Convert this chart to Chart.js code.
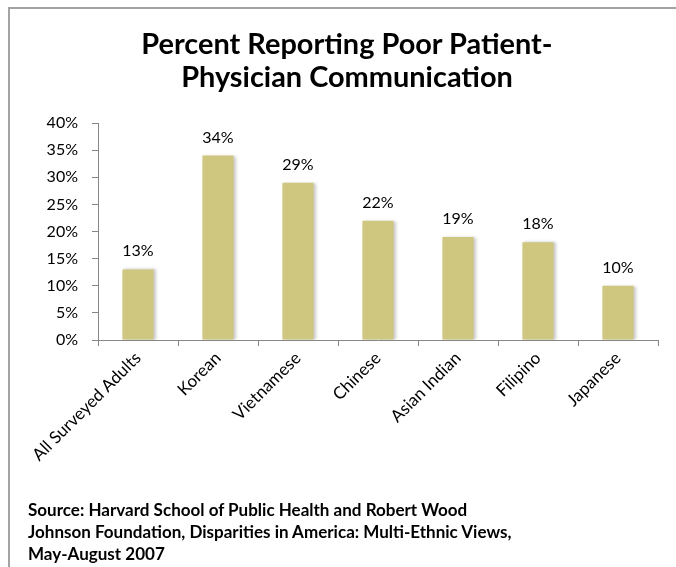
<!DOCTYPE html>
<html>
<head>
<meta charset="utf-8">
<script src="https://cdn.jsdelivr.net/npm/chart.js@4.4.1/dist/chart.umd.min.js"></script>
<style>
  html, body { margin: 0; padding: 0; background: #fff; }
  body { width: 676px; height: 567px; position: relative; overflow: hidden; }
  #frame { position: absolute; left: 8px; top: 7px; width: 700px; height: 600px;
           border-left: 2px solid #a3a3a3; border-top: 2px solid #a3a3a3; }
  #chartWrap { position: absolute; left: 0; top: 0; width: 676px; height: 567px; }
  .title { position: absolute; left: 0; width: 694px; text-align: center;
           font-family: Lato, "Open Sans", sans-serif; font-weight: bold; color: #000;
           white-space: nowrap; }
  .src { position: absolute; left: 28px; font-family: Lato, "Open Sans", sans-serif;
         font-weight: bold; color: #000; white-space: nowrap; }
</style>
</head>
<body>
<div id="frame"></div>
<div id="chartWrap"><canvas id="c" width="676" height="567"></canvas></div>
<div id="t1" class="title">Percent Reporting Poor Patient-</div>
<div id="t2" class="title">Physician Communication</div>
<div id="s1" class="src">Source: Harvard School of Public Health and Robert Wood</div>
<div id="s2" class="src">Johnson Foundation, Disparities in America: Multi-Ethnic Views,</div>
<div id="s3" class="src">May-August 2007</div>
<script>
const categories = ['All Surveyed Adults', 'Korean', 'Vietnamese', 'Chinese', 'Asian Indian', 'Filipino', 'Japanese'];
const values = [13, 34, 29, 22, 19, 18, 10];
const yMin = 0;
const yMax = 40;
const yStep = 5;

function placeLines(ids, fontSize, baselines) {
  ids.forEach((id, i) => {
    const el = document.getElementById(id);
    el.style.fontSize = fontSize + 'px';
    el.style.lineHeight = fontSize + 'px';
    const baselineOffset = (fontSize - 1.2 * fontSize) / 2 + 0.987 * fontSize;
    el.style.top = (baselines[i] - baselineOffset) + 'px';
  });
}
function fitSize(text, weight, family, targetWidth) {
  const ctx = document.createElement('canvas').getContext('2d');
  ctx.font = weight + ' 100px ' + family;
  return 100 * targetWidth / ctx.measureText(text).width;
}

const shadowPlugin = {
  id: 'barShadow',
  beforeDatasetsDraw(chart) {
    const ctx = chart.ctx;
    ctx.save();
    ctx.shadowColor = 'rgba(0,0,0,0.22)';
    ctx.shadowBlur = 3;
    ctx.shadowOffsetX = 2;
    ctx.shadowOffsetY = 0;
  },
  afterDatasetsDraw(chart) {
    chart.ctx.restore();
  }
};

const labelPlugin = {
  id: 'valueLabels',
  afterDatasetsDraw(chart) {
    const ctx = chart.ctx;
    const meta = chart.getDatasetMeta(0);
    ctx.save();
    ctx.shadowColor = 'transparent';
    ctx.font = '16px Lato, "Open Sans", sans-serif';
    ctx.fillStyle = '#000';
    ctx.textAlign = 'center';
    ctx.textBaseline = 'alphabetic';
    meta.data.forEach((bar, i) => {
      ctx.fillText(values[i] + '%', bar.x, bar.y - 13);
    });
    ctx.restore();
  }
};

function build() {
  const tSize = fitSize(document.getElementById('t1').textContent, 'bold', 'Lato', 412);
  placeLines(['t1', 't2'], tSize, [55, 88]);
  const sSize = fitSize(document.getElementById('s1').textContent, 'bold', 'Lato', 440);
  placeLines(['s1', 's2', 's3'], sSize, [516, 538, 560]);

  new Chart(document.getElementById('c'), {
    type: 'bar',
    data: {
      labels: categories,
      datasets: [{
        data: values,
        backgroundColor: '#CFC77F',
        borderWidth: 0,
        barPercentage: 0.39,
        categoryPercentage: 1.0
      }]
    },
    options: {
      responsive: false,
      animation: false,
      devicePixelRatio: 1,
      layout: { padding: { left: 0, top: 123, right: 18, bottom: 77 } },
      plugins: { legend: { display: false }, title: { display: false }, tooltip: { enabled: false } },
      scales: {
        x: {
          afterFit(scale) { scale.height = 150; },
          grid: { display: true, drawOnChartArea: false, drawTicks: true, tickLength: 6, color: '#868686', lineWidth: 1 },
          border: { display: true, color: '#868686', width: 1 },
          ticks: {
            minRotation: 45, maxRotation: 45, autoSkip: false, padding: 2,
            color: '#000', font: { family: 'Lato, "Open Sans", sans-serif', size: 17 }
          }
        },
        y: {
          min: yMin, max: yMax,
          afterFit(scale) { scale.width = 98; },
          grid: { display: true, drawOnChartArea: false, drawTicks: true, tickLength: 6, color: '#868686', lineWidth: 1 },
          border: { display: true, color: '#868686', width: 1 },
          ticks: {
            stepSize: yStep, padding: 14, color: '#000',
            font: { family: 'Lato, "Open Sans", sans-serif', size: 16 },
            callback: v => v + '%'
          }
        }
      }
    },
    plugins: [shadowPlugin, labelPlugin]
  });
}
if (document.fonts && document.fonts.load) {
  Promise.all([document.fonts.load('bold 20px Lato'), document.fonts.load('16px Lato')]).then(build, build);
} else { build(); }
</script>
</body>
</html>
